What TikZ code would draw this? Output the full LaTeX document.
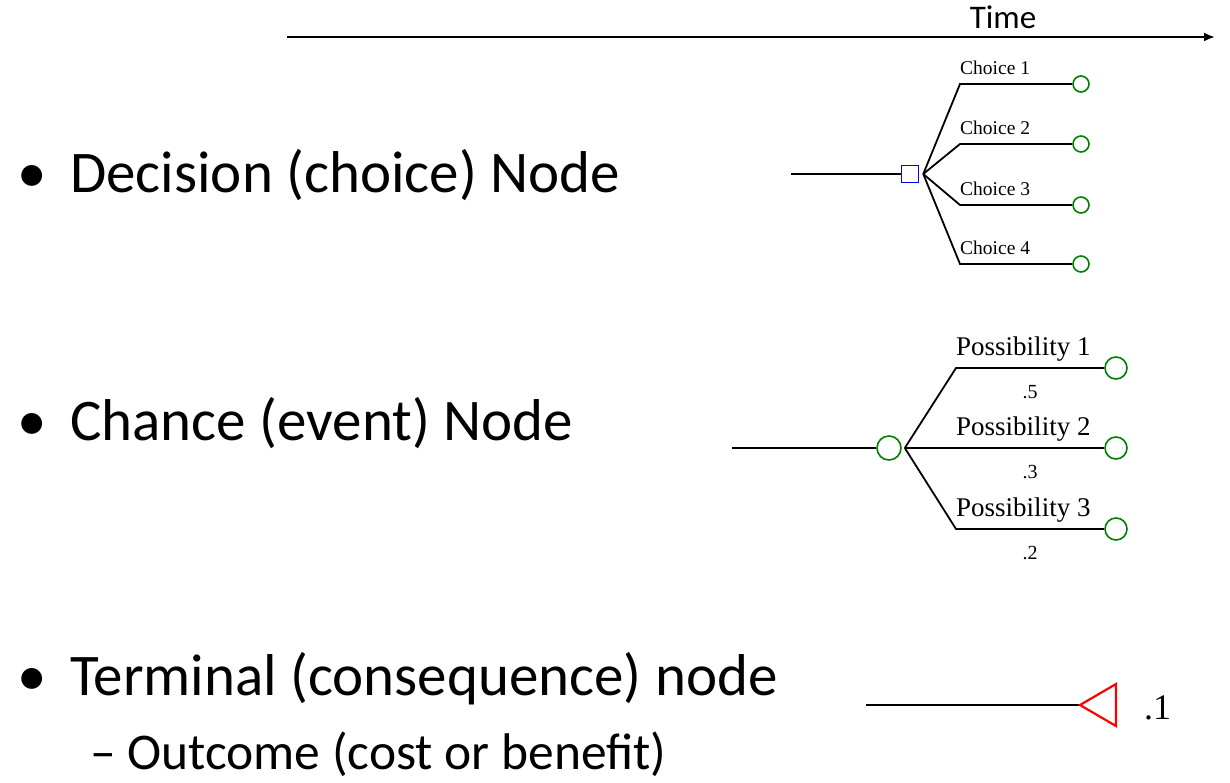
\documentclass[tikz,border=0pt]{standalone}
\usepackage{fontspec}
\setmainfont{Carlito}
\newfontfamily\treefont{Liberation Serif}
\usetikzlibrary{arrows.meta}
\tikzset{
  slide/.style={anchor=base west, inner sep=0pt, font=\fontsize{59}{70}\selectfont},
  subslide/.style={anchor=base west, inner sep=0pt, font=\fontsize{51.5}{60}\selectfont},
  choicebox/.style={draw=blue, line width=1.5pt, rectangle, minimum size=17pt, inner sep=0pt},
  chancenode/.style={draw=green!50!black, line width=1.6pt, circle, minimum size=#1, inner sep=0pt},
  chancenode/.default=16pt,
  branch/.style={line width=1.8pt},
  clabel/.style={anchor=base west, inner sep=0pt, font=\treefont\fontsize{19.5}{24}\selectfont},
  plabel/.style={anchor=base west, inner sep=0pt, font=\treefont\fontsize{27}{32}\selectfont},
  prob/.style={anchor=base, inner sep=0pt, font=\treefont\fontsize{20}{24}\selectfont}
}
\begin{document}
\begin{tikzpicture}[x=1pt, y=-1pt]
\useasboundingbox (0,0) rectangle (1230,782);
% time axis
\coordinate (T0) at (287,37);
\coordinate (T1) at (1215,37);
\draw[line width=2pt, -{Latex[length=11pt,width=9pt]}] (T0) -- (T1);
\node[font=\fontsize{33}{40}\selectfont, inner sep=0pt, anchor=base] (time) at (1003,28) {Time};

% slide text
\node[slide] (b1) at (17,192) {•};
\node[slide] (l1) at (70,192) {Decision (choice) Node};
\node[slide] (b2) at (17,440) {•};
\node[slide] (l2) at (70,440) {Chance (event) Node};
\node[slide] (b3) at (17,695) {•};
\node[slide] (l3) at (70,695) {Terminal (consequence) node};
\node[subslide] (l4) at (90,769) {– Outcome (cost or benefit)};

% decision node
\node[choicebox] (D) at (910,174) {};
\coordinate (Din) at (791,174);
\draw[line width=1.3pt] (Din) -- (D);
\foreach \i/\y in {1/84,2/144,3/205,4/264}{
  \coordinate (K\i) at (960,\y);
  \node[chancenode] (E\i) at (1081,\y) {};
  \draw[branch] ([xshift=4pt]D.east) -- (K\i) -- (E\i);
  \node[clabel] (CL\i) at (960,\y-10) {Choice \i};
}

% chance node
\node[chancenode=24pt] (C) at (889,448) {};
\coordinate (Cin) at (732,448);
\draw[branch] (Cin) -- (C);
\foreach \i/\y/\p in {1/368/5,2/448/3,3/529/2}{
  \coordinate (Q\i) at (956,\y);
  \node[chancenode=22pt] (F\i) at (1116,\y) {};
  \draw[branch] ([xshift=3pt]C.east) -- (Q\i) -- (F\i);
  \node[plabel] (PL\i) at (956,\y-13) {Possibility \i};
  \node[prob] (PR\i) at (1030,\y+30) {.\p};
}

% terminal node
\coordinate (Tin) at (866,705);
\coordinate (Tend) at (1080,705);
\draw[line width=2.8pt] (Tin) -- (Tend);
\draw[red, line width=2.2pt] (Tend) -- ++(36,-21) -- ++(0,42) -- cycle;
\node[anchor=base west, inner sep=0pt, font=\treefont\fontsize{36}{40}\selectfont] (val) at (1144,719) {.1};
\end{tikzpicture}
\end{document}
